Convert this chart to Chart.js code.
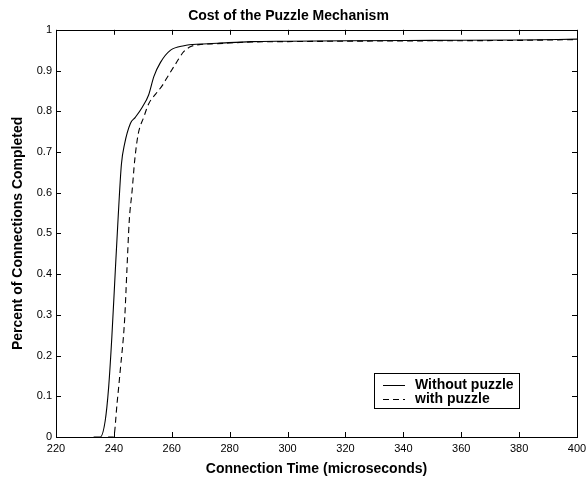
<!DOCTYPE html>
<html>
<head>
<meta charset="utf-8">
<script src="https://cdn.jsdelivr.net/npm/chart.js@4.4.0/dist/chart.umd.min.js"></script>
<style>
  html, body { margin: 0; padding: 0; background: #fff; }
  #wrap { width: 588px; height: 479px; }
</style>
</head>
<body>
<div id="wrap"><canvas id="puzzleChart"></canvas></div>
<script>
// --- data ---
const xTicks = [220, 240, 260, 280, 300, 320, 340, 360, 380, 400];
const yTicks = [0, 0.1, 0.2, 0.3, 0.4, 0.5, 0.6, 0.7, 0.8, 0.9, 1];
const yTickLabels = ['0', '0.1', '0.2', '0.3', '0.4', '0.5', '0.6', '0.7', '0.8', '0.9', '1'];
const seriesNames = ['Without puzzle', 'with puzzle'];

// connection time (microseconds) / fraction completed
const withoutTime = [233, 235.3, 237, 238.2, 239.3, 240.5, 241.4, 242.6, 243.7, 245.7, 247.4, 249.8, 252, 253.8, 256.1, 259.6, 264.2, 270, 275.8, 287.4, 300, 320, 350, 380, 400];
const withoutDone = [0, 0, 0.04, 0.123, 0.246, 0.41, 0.53, 0.67, 0.72, 0.77, 0.785, 0.81, 0.84, 0.885, 0.92, 0.95, 0.961, 0.965, 0.967, 0.971, 0.972, 0.973, 0.974, 0.975, 0.977];
const withTime = [238, 239.9, 241.1, 242.2, 243.7, 244.5, 245.3, 246.3, 247.2, 248.4, 250.3, 252, 254.4, 256.7, 258.4, 261.3, 264.2, 267, 270, 275.8, 287.4, 300, 320, 350, 380, 400];
const withDone = [0, 0, 0.083, 0.164, 0.287, 0.41, 0.53, 0.605, 0.68, 0.744, 0.785, 0.818, 0.842, 0.863, 0.883, 0.916, 0.947, 0.96, 0.964, 0.966, 0.97, 0.971, 0.972, 0.973, 0.974, 0.976];

const FONT = '"Liberation Sans", Arial, Helvetica, sans-serif';
Chart.defaults.font.family = FONT;
Chart.defaults.color = '#000';

const toPoints = (xs, ys) => xs.map((x, i) => ({ x: x, y: ys[i] }));

// box around the axes + MATLAB-style inward ticks on all four sides
const frameTicks = {
    id: 'frameTicks',
    afterDatasetsDraw(chart) {
        const { ctx, chartArea: a, scales } = chart;
        const len = 5;
        ctx.save();
        ctx.strokeStyle = '#000';
        ctx.lineWidth = 1;
        ctx.strokeRect(Math.round(a.left) + 0.5, Math.round(a.top) + 0.5,
            Math.round(a.right - a.left), Math.round(a.bottom - a.top));
        ctx.beginPath();
        xTicks.forEach(v => {
            const px = Math.round(scales.x.getPixelForValue(v)) + 0.5;
            ctx.moveTo(px, a.bottom); ctx.lineTo(px, a.bottom - len);
            ctx.moveTo(px, a.top); ctx.lineTo(px, a.top + len);
        });
        yTicks.forEach(v => {
            const py = Math.round(scales.y.getPixelForValue(v)) + 0.5;
            ctx.moveTo(a.left, py); ctx.lineTo(a.left + len, py);
            ctx.moveTo(a.right, py); ctx.lineTo(a.right - len, py);
        });
        ctx.stroke();
        ctx.restore();
    }
};

// boxed legend in the lower right corner
const boxLegend = {
    id: 'boxLegend',
    afterDraw(chart) {
        const { ctx, chartArea: a } = chart;
        const w = 145, h = 35;
        const left = Math.round(a.right - 58 - w), top = Math.round(a.bottom - 29 - h);
        ctx.save();
        ctx.fillStyle = '#fff';
        ctx.fillRect(left, top, w, h);
        ctx.strokeStyle = '#000';
        ctx.lineWidth = 1;
        ctx.strokeRect(left + 0.5, top + 0.5, w, h);
        ctx.font = 'bold 14px ' + FONT;
        ctx.textBaseline = 'middle';
        ctx.fillStyle = '#000';
        chart.data.datasets.forEach((ds, i) => {
            const y = top + 12 + i * 14;
            ctx.beginPath();
            ctx.setLineDash(ds.borderDash || []);
            ctx.moveTo(left + 9, y + 0.5);
            ctx.lineTo(left + 31, y + 0.5);
            ctx.stroke();
            ctx.setLineDash([]);
            ctx.fillText(ds.label, left + 41, y);
        });
        ctx.restore();
    }
};

new Chart(document.getElementById('puzzleChart'), {
    type: 'line',
    data: {
        datasets: [{
            label: seriesNames[0],
            data: toPoints(withoutTime, withoutDone),
            borderColor: '#000',
            borderWidth: 1.1,
            pointRadius: 0,
            cubicInterpolationMode: 'monotone'
        }, {
            label: seriesNames[1],
            data: toPoints(withTime, withDone),
            borderColor: '#000',
            borderWidth: 1.1,
            borderDash: [6, 4],
            pointRadius: 0,
            cubicInterpolationMode: 'monotone'
        }]
    },
    options: {
        responsive: true,
        maintainAspectRatio: false,
        animation: false,
        layout: { padding: { top: 0, right: 11, bottom: 0, left: 0 } },
        plugins: {
            legend: { display: false },
            tooltip: { enabled: false },
            title: {
                display: true,
                text: 'Cost of the Puzzle Mechanism',
                color: '#000',
                font: { size: 14, weight: 'bold' },
                padding: { top: 8, bottom: 5 }
            }
        },
        scales: {
            x: {
                type: 'linear',
                min: 220,
                max: 400,
                afterBuildTicks: s => { s.ticks = xTicks.map(v => ({ value: v })); },
                afterFit: s => { s.height = 42; s.paddingLeft = 0; s.paddingRight = 0; },
                grid: { display: false, drawTicks: false },
                border: { display: false },
                ticks: { padding: 5, font: { size: 11 }, color: '#000', maxRotation: 0 },
                title: {
                    display: true,
                    text: 'Connection Time (microseconds)',
                    color: '#000',
                    font: { size: 14, weight: 'bold' },
                    padding: { top: 0, bottom: 1 }
                }
            },
            y: {
                min: 0,
                max: 1,
                afterBuildTicks: s => { s.ticks = yTicks.map(v => ({ value: v })); },
                afterFit: s => { s.width = 56; },
                grid: { display: false, drawTicks: false },
                border: { display: false },
                ticks: {
                    padding: 4,
                    font: { size: 11 },
                    color: '#000',
                    callback: (v, i) => yTickLabels[i]
                },
                title: {
                    display: true,
                    text: 'Percent of Connections Completed',
                    color: '#000',
                    font: { size: 14, weight: 'bold' },
                    padding: { top: 10, bottom: 0 }
                }
            }
        }
    },
    plugins: [frameTicks, boxLegend]
});
</script>
</body>
</html>
